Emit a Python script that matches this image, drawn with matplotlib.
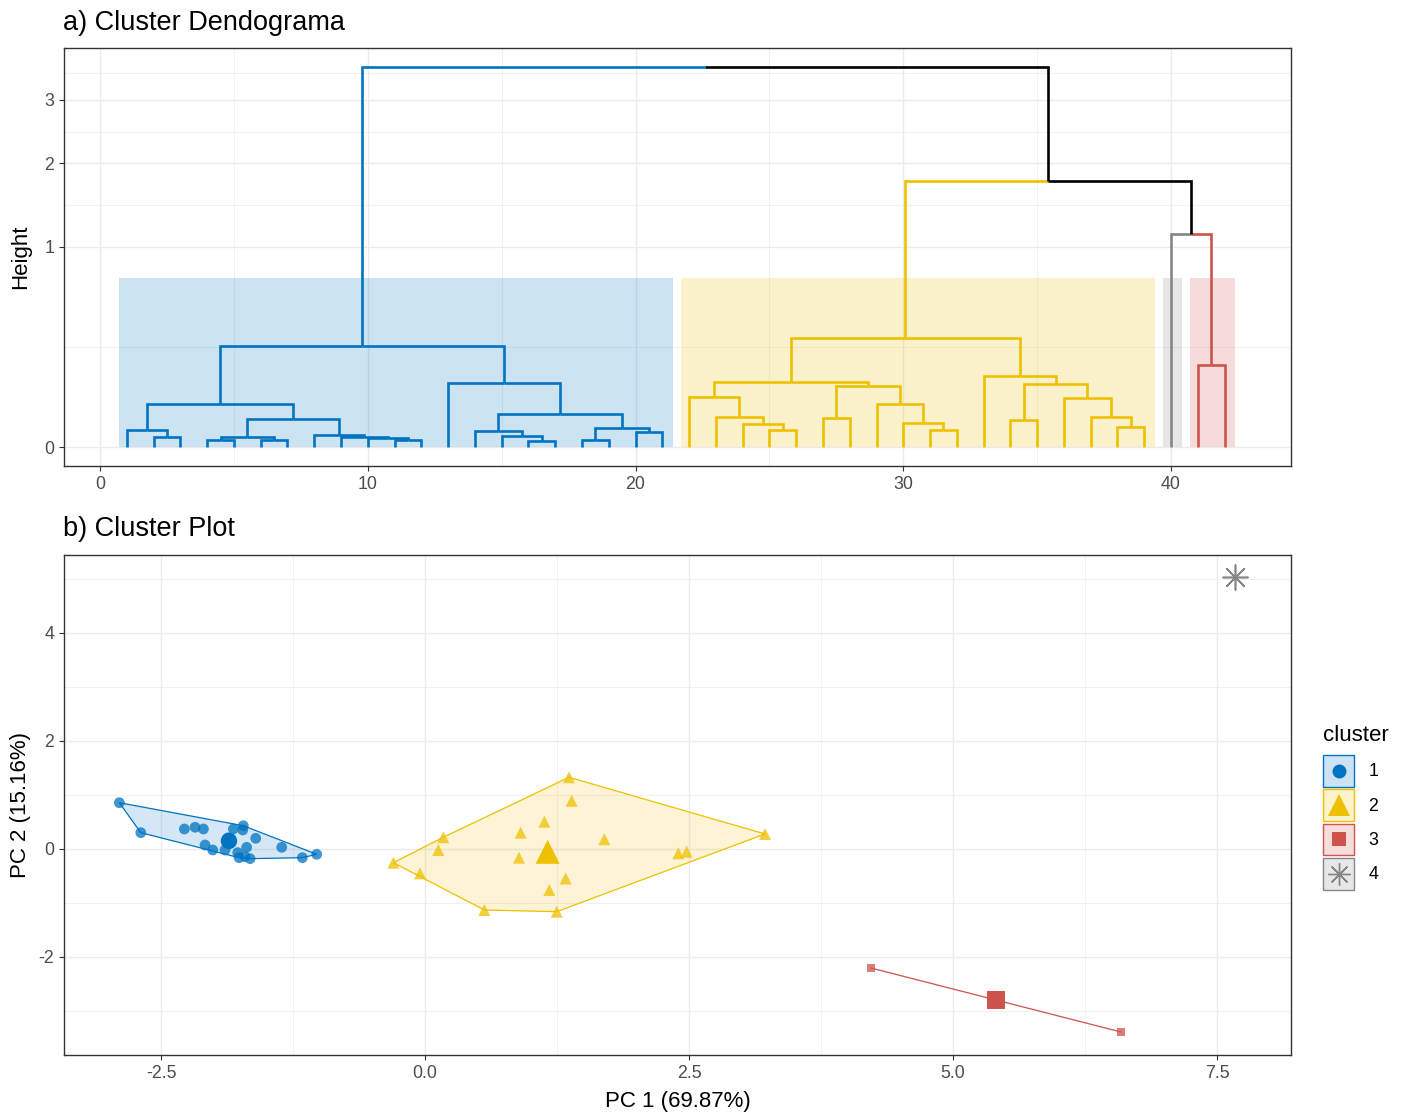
import numpy as np
import matplotlib
matplotlib.use("Agg")
import matplotlib.pyplot as plt
from matplotlib.patches import Patch, Polygon, Rectangle
from matplotlib.lines import Line2D
from matplotlib.legend_handler import HandlerTuple, HandlerLine2D

plt.rcParams['font.family'] = ['Liberation Sans', 'DejaVu Sans']
plt.rcParams['axes.unicode_minus'] = False

# ---------------------------------------------------------------- data
# hclust-style merge table: negative = leaf id, positive = earlier merge step
merge_left = [-2, -1, -4, -6, 3, -11, -10, -9, -8, 5, 2, -16, -15, -14, -18, -20, 15, 14, -13, 11,
              -25, -24, -23, -22, -27, -31, -30, -29, 25, 24, -34, -38, -37, -36, 31, -33, 30,
              -41, -40, 37, 20]
merge_right = [-3, 1, -5, -7, 4, -12, 6, 7, 8, 9, 10, -17, 12, 13, -19, -21, 16, 17, 18, 19,
               -26, 21, 22, 23, -28, -32, 26, 27, 28, 29, -35, -39, 32, 33, 34, 35, 36,
               -42, 38, 39, 40]
merge_height = [0.0023, 0.0074, 0.0012, 0.0012, 0.0023, 0.0012, 0.0020, 0.0027, 0.0037, 0.0194,
                0.0458, 0.0008, 0.0032, 0.0066, 0.0012, 0.0054, 0.0087, 0.0270, 0.1014, 0.254,
                0.0072, 0.0131, 0.0227, 0.0611, 0.0204, 0.0072, 0.0143, 0.0458, 0.0912, 0.1055,
                0.0185, 0.0096, 0.0227, 0.0587, 0.0982, 0.1258, 0.294,
                0.1677, 1.130, 1.7645, 3.593]
# cluster of each leaf id (1..42)
leaf_cluster = [1, 1, 1, 1, 1, 1, 1, 1, 1, 1, 1, 1, 1, 1, 1, 1, 1, 1, 1, 1, 1,
                2, 2, 2, 2, 2, 2, 2, 2, 2, 2, 2, 2, 2, 2, 2, 2, 2, 2,
                4, 3, 3]

# PCA scores per cluster
pc1_c1 = [-2.895, -2.692, -2.279, -2.178, -2.099, -1.815, -1.721, -1.726, -1.603, -1.357, -1.026,
          -1.162, -2.083, -2.010, -1.894, -1.774, -1.689, -1.761, -1.657, -1.705, -1.866]
pc2_c1 = [0.857, 0.302, 0.370, 0.402, 0.370, 0.370, 0.431, 0.352, 0.198, 0.031, -0.098,
          -0.161, 0.074, -0.019, -0.019, -0.068, 0.031, -0.161, -0.179, -0.142, 0.204]
pc1_c2 = [1.364, 1.389, 1.130, 0.906, 0.173, 0.126, 0.890, -0.300, -0.047, 1.332, 1.177,
          0.562, 1.247, 1.698, 2.399, 2.478, 3.220, 1.160]
pc2_c2 = [1.328, 0.894, 0.506, 0.302, 0.217, -0.019, -0.161, -0.254, -0.450, -0.546, -0.759,
          -1.130, -1.161, 0.180, -0.080, -0.050, 0.278, -0.030]
pc1_c3 = [4.223, 6.591]
pc2_c3 = [-2.204, -3.389]
pc1_c4 = [7.670]
pc2_c4 = [5.037]

cluster_labels = ['1', '2', '3', '4']
pc1_var = 69.87
pc2_var = 15.16

# ---------------------------------------------------------------- style
colors = {1: '#0073C2', 2: '#EFC000', 3: '#CD534C', 4: '#868686'}
light = {1: '#CCE3F3', 2: '#FCF2CC', 3: '#F5DDDB', 4: '#E7E7E7'}
markers = {1: 'o', 2: '^', 3: 's', 4: (8, 2, 0)}
small_s = {1: 60, 2: 75, 3: 38, 4: 330}
big_s = {1: 140, 2: 300, 3: 155, 4: 330}

W, H = 1408, 1113
fig = plt.figure(figsize=(W / 100, H / 100), dpi=100)


def ax_rect(l, t, r, b):
    return [l / W, 1 - b / H, (r - l) / W, (b - t) / H]


def style_axes(ax):
    ax.set_axisbelow(True)
    for sp in ax.spines.values():
        sp.set_color('#333333')
        sp.set_linewidth(1.0)
    ax.tick_params(which='major', length=3.5, width=0.8, color='#333333',
                   labelsize=12.8, labelcolor='#4D4D4D', pad=3.5)
    ax.tick_params(which='minor', length=0)
    ax.grid(which='major', color='#EBEBEB', lw=1.0)
    ax.grid(which='minor', color='#EBEBEB', lw=0.5)


# ---------------------------------------------------------------- a) dendrogram
ax1 = fig.add_axes(ax_rect(64, 48, 1291, 466))
style_axes(ax1)


def fwd(y):
    y = np.asarray(y, dtype=float)
    return np.sign(y) * np.sqrt(np.abs(y))


def inv(y):
    y = np.asarray(y, dtype=float)
    return np.sign(y) * y ** 2


ax1.set_yscale('function', functions=(fwd, inv))

n_merge = len(merge_height)
order = []


def collect(v):
    if v < 0:
        order.append(-v)
    else:
        collect(merge_left[v - 1])
        collect(merge_right[v - 1])


collect(n_merge)
leaf_pos = {leaf: i + 1 for i, leaf in enumerate(order)}

cache = {}


def node_info(v):
    if v in cache:
        return cache[v]
    if v < 0:
        res = (float(leaf_pos[-v]), 0.0, {leaf_cluster[-v - 1]})
    else:
        lx, _, ls = node_info(merge_left[v - 1])
        rx, _, rs = node_info(merge_right[v - 1])
        res = ((lx + rx) / 2, merge_height[v - 1], ls | rs)
    cache[v] = res
    return res


# cluster rectangles
rect_top = 0.707
for c in [1, 2, 4, 3]:
    pos = [leaf_pos[i + 1] for i, lc in enumerate(leaf_cluster) if lc == c]
    x0, x1 = min(pos) - 0.3, max(pos) + 0.4
    ax1.add_patch(Rectangle((x0, 0), x1 - x0, rect_top, facecolor=colors[c],
                            alpha=0.2, edgecolor='none', zorder=1))

for step in range(1, n_merge + 1):
    px, ph, _ = node_info(step)
    for child in (merge_left[step - 1], merge_right[step - 1]):
        cx, ch, cs = node_info(child)
        col = colors[next(iter(cs))] if len(cs) == 1 else 'black'
        ax1.plot([cx, cx, px], [ch, ph, ph], color=col, lw=1.9,
                 solid_capstyle='butt', solid_joinstyle='miter', zorder=3)

ax1.set_xlim(-1.345, 44.48)
s_top = np.sqrt(max(merge_height))
ax1.set_ylim(-(0.05 * s_top) ** 2, (1.05 * s_top) ** 2)
ax1.set_xticks([0, 10, 20, 30, 40])
ax1.set_xticks([5, 15, 25, 35], minor=True)
ax1.set_yticks([0, 1, 2, 3])
ax1.set_yticklabels(['0', '1', '2', '3'])
ax1.set_yticks([0.25, 1.457, 2.474, 3.482], minor=True)
ax1.yaxis.set_minor_formatter(plt.NullFormatter())
ax1.set_ylabel('Height', fontsize=16)
ax1.yaxis.set_label_coords(-0.027, 0.5)
fig.text(63 / W, 1 - 23 / H, 'a) Cluster Dendograma', fontsize=19.5, va='center', ha='left')

# ---------------------------------------------------------------- b) cluster plot
ax2 = fig.add_axes(ax_rect(64, 555, 1291, 1055))
style_axes(ax2)


def convex_hull(pts):
    pts = sorted(set(map(tuple, pts)))
    if len(pts) <= 2:
        return np.array(pts)

    def cross(o, a, b):
        return (a[0] - o[0]) * (b[1] - o[1]) - (a[1] - o[1]) * (b[0] - o[0])
    lower, upper = [], []
    for p in pts:
        while len(lower) >= 2 and cross(lower[-2], lower[-1], p) <= 0:
            lower.pop()
        lower.append(p)
    for p in reversed(pts):
        while len(upper) >= 2 and cross(upper[-2], upper[-1], p) <= 0:
            upper.pop()
        upper.append(p)
    return np.array(lower[:-1] + upper[:-1])


clusters = {1: (pc1_c1, pc2_c1), 2: (pc1_c2, pc2_c2), 3: (pc1_c3, pc2_c3), 4: (pc1_c4, pc2_c4)}
for c, (xs, ys) in clusters.items():
    pts = np.column_stack([xs, ys])
    if len(pts) >= 2:
        hull = convex_hull(pts)
        if len(hull) >= 3:
            ax2.add_patch(Polygon(hull, closed=True, facecolor=colors[c], alpha=0.17,
                                  edgecolor='none', zorder=1))
            ax2.add_patch(Polygon(hull, closed=True, facecolor='none', edgecolor=colors[c],
                                  lw=0.9, zorder=2))
        else:
            ax2.plot(hull[:, 0], hull[:, 1], color=colors[c], lw=0.9, zorder=2)
    if c == 4:
        ax2.scatter(xs, ys, s=small_s[c], marker=markers[c], color=colors[c], lw=1.0, zorder=3)
    else:
        ax2.scatter(xs, ys, s=small_s[c], marker=markers[c], color=colors[c], alpha=0.75,
                    edgecolors='none', zorder=3)
    cx, cy = np.mean(xs), np.mean(ys)
    if c == 4:
        ax2.scatter([cx], [cy], s=big_s[c], marker=markers[c], color=colors[c], lw=1.0, zorder=4)
    else:
        ax2.scatter([cx], [cy], s=big_s[c], marker=markers[c], color=colors[c],
                    edgecolors='none', zorder=4)

ax2.set_xlim(-3.419, 8.201)
ax2.set_ylim(-3.815, 5.444)
ax2.set_xticks([-2.5, 0, 2.5, 5, 7.5])
ax2.set_xticklabels(['-2.5', '0.0', '2.5', '5.0', '7.5'])
ax2.set_xticks([-1.25, 1.25, 3.75, 6.25], minor=True)
ax2.set_yticks([-2, 0, 2, 4])
ax2.set_yticks([-3, -1, 1, 3, 5], minor=True)
ax2.xaxis.set_minor_formatter(plt.NullFormatter())
ax2.yaxis.set_minor_formatter(plt.NullFormatter())
ax2.set_xlabel(f'PC 1 ({pc1_var:.2f}%)', fontsize=16)
ax2.set_ylabel(f'PC 2 ({pc2_var:.2f}%)', fontsize=16)
ax2.xaxis.set_label_coords(0.5, -0.072)
ax2.yaxis.set_label_coords(-0.027, 0.5)
fig.text(63 / W, 1 - 529 / H, 'b) Cluster Plot', fontsize=19.5, va='center', ha='left')


# legend: filled key box with the cluster marker centred on top
class CenteredMarker(HandlerLine2D):
    def create_artists(self, legend, orig_handle, xdescent, ydescent, width, height,
                       fontsize, trans):
        artists = super().create_artists(legend, orig_handle, xdescent, ydescent, width,
                                         height, fontsize, trans)
        for a in artists:
            yd = np.asarray(a.get_ydata(), dtype=float)
            a.set_ydata(np.full_like(yd, height / 2 - ydescent))
        return artists


leg_ms = {1: 10, 2: 16, 3: 10, 4: 16}
handles = []
for i, lab in enumerate(cluster_labels):
    c = i + 1
    patch = Patch(facecolor=light[c], edgecolor=colors[c], lw=1.0)
    if c == 4:
        mk = Line2D([], [], ls='', marker=markers[c], ms=leg_ms[c], color=colors[c], mew=1.0)
    else:
        mk = Line2D([], [], ls='', marker=markers[c], ms=leg_ms[c], color=colors[c],
                    markeredgewidth=0)
    handles.append((patch, mk))

leg = ax2.legend(handles, cluster_labels, title='cluster',
                 handler_map={tuple: HandlerTuple(ndivide=1, pad=0),
                              Line2D: CenteredMarker()},
                 loc='upper left', bbox_to_anchor=(1323 / W, 1 - 725 / H),
                 bbox_transform=fig.transFigure, frameon=False, fontsize=12.8,
                 title_fontsize=16, handlelength=1.75, handleheight=2.36,
                 labelspacing=0.15, handletextpad=0.8, borderpad=0, borderaxespad=0,
                 alignment='left')
# extra room between the legend title and the keys
leg._legend_box.sep = 6.5

fig.savefig('out.png', dpi=100)
